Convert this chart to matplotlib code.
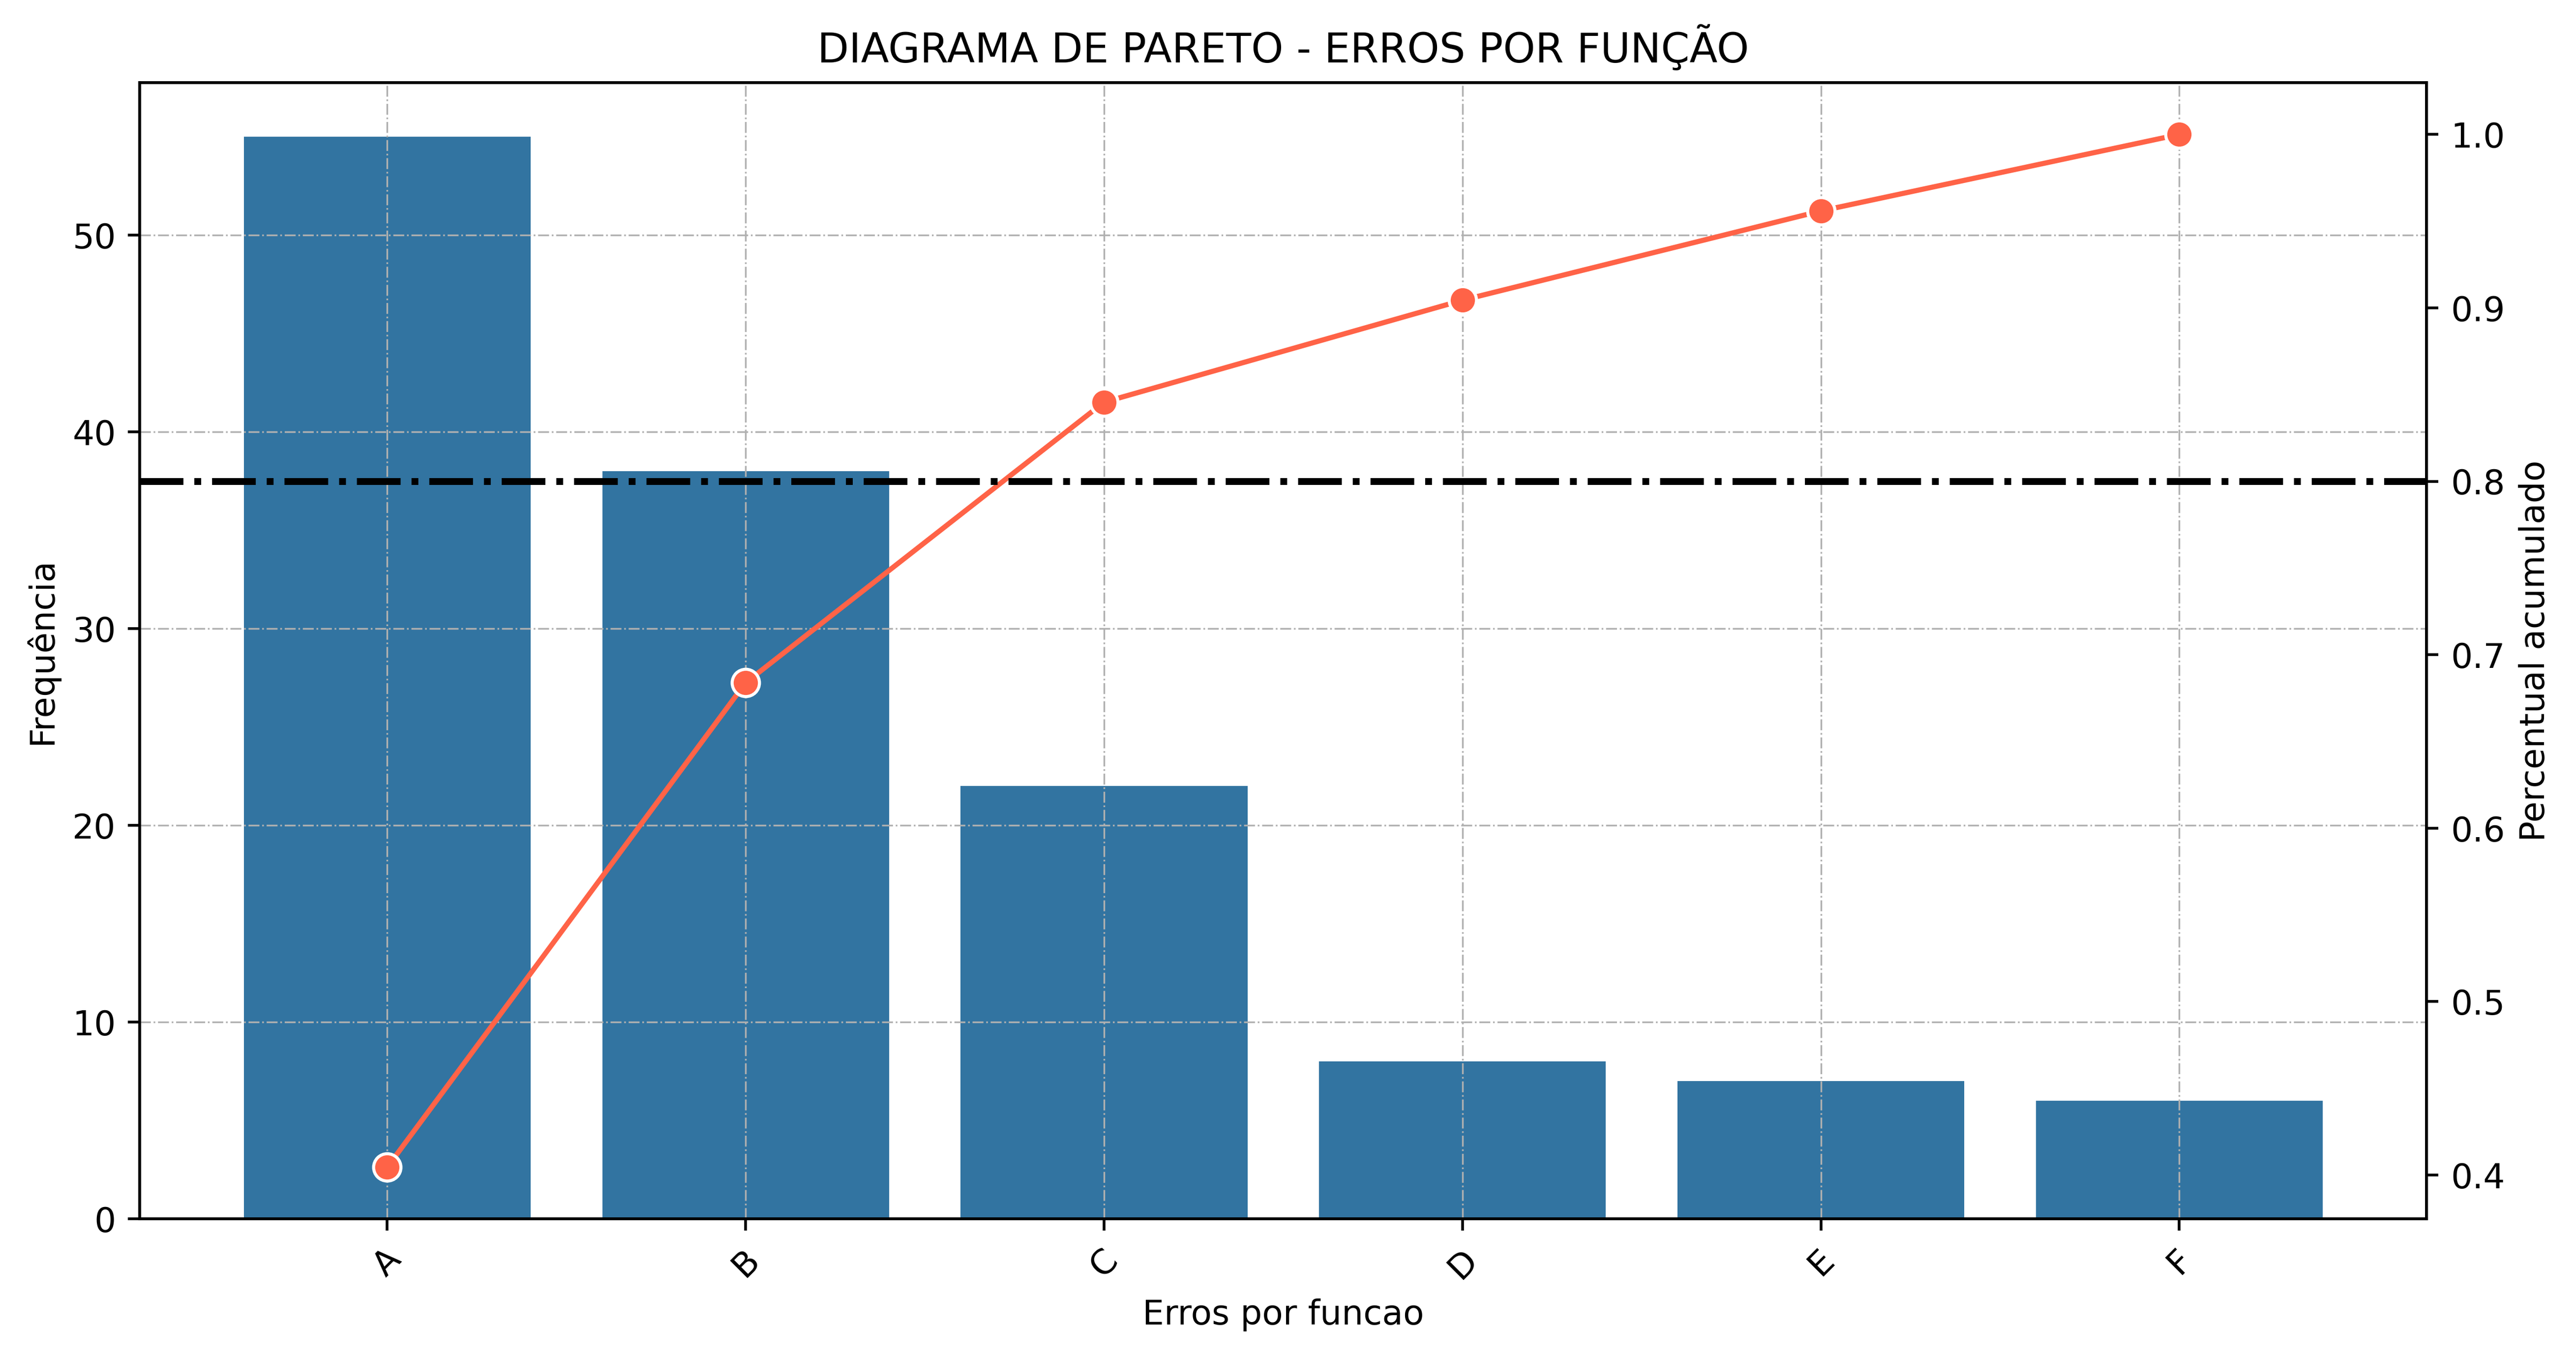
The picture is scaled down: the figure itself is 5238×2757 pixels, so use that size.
import matplotlib
matplotlib.use('Agg')
import matplotlib.pyplot as plt

# Dados do diagrama de Pareto
categorias = ['A', 'B', 'C', 'D', 'E', 'F']
frequencias = [55, 38, 22, 8, 7, 6]

total = sum(frequencias)
acumulado = []
soma = 0
for f in frequencias:
    soma += f
    acumulado.append(soma / total)

fig, ax = plt.subplots(figsize=(12, 6))

ax.bar(categorias, frequencias, color='#3274a1', width=0.8)
ax.set_xlabel('Erros por funcao')
ax.set_ylabel('Frequência')
ax.set_title('DIAGRAMA DE PARETO - ERROS POR FUNÇÃO')
ax.grid(True, linestyle='-.', linewidth=0.5)
plt.setp(ax.get_xticklabels(), rotation=45)

ax2 = ax.twinx()
ax2.plot(categorias, acumulado, color='tomato', marker='o', linewidth=1.5,
         markersize=8, markeredgecolor='white', markeredgewidth=0.9)
ax2.axhline(0.8, color='black', linestyle='-.', linewidth=2)
ax2.set_ylabel('Percentual acumulado')

fig.savefig('out.png', dpi=500, bbox_inches='tight')
